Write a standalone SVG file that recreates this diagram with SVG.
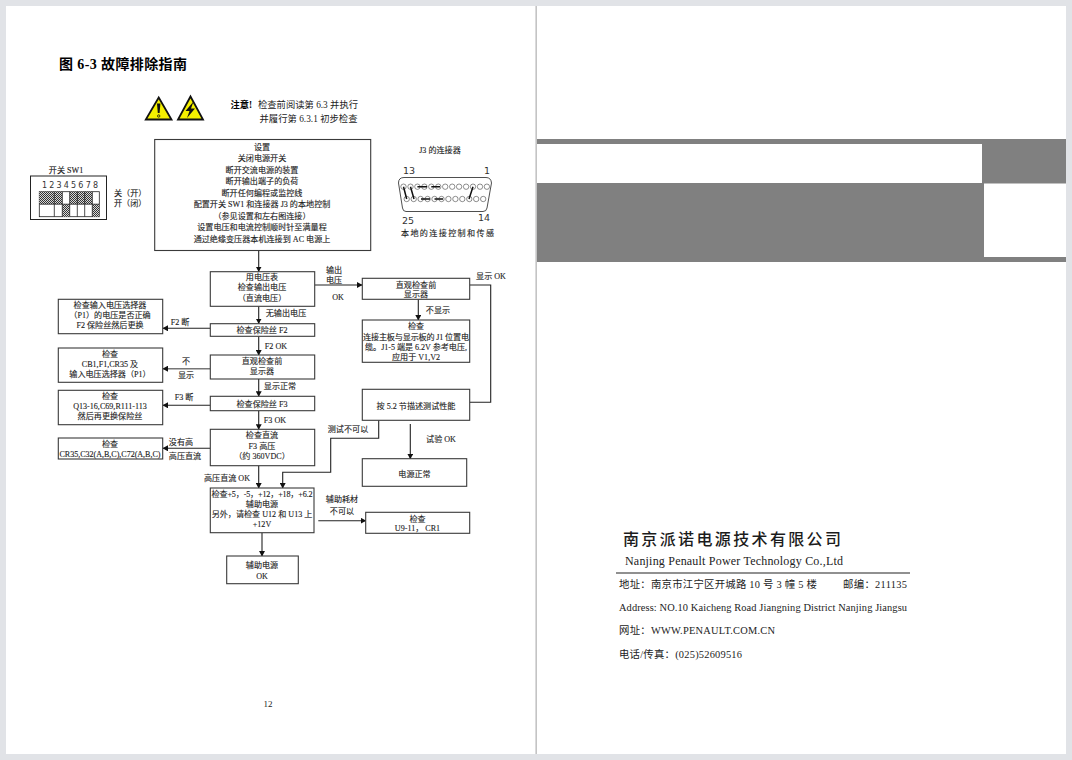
<svg xmlns="http://www.w3.org/2000/svg" width="1072" height="760" viewBox="0 0 1072 760">
<style>
text{font-family:"Liberation Serif","Noto Sans CJK SC",serif;fill:#1c1c1c}
.t{font-size:8.1px;text-anchor:middle;stroke:#1c1c1c;stroke-width:.12}
.l{font-size:8.1px;stroke:#1c1c1c;stroke-width:.12}
.a{font-size:10.4px;fill:#222}
.b{fill:#fff;stroke:#3a3a3a;stroke-width:1.1}
.c{fill:none;stroke:#222;stroke-width:1.1}
.pin{fill:#fff;stroke:#444;stroke-width:.6}
.j{stroke:#111;stroke-width:1.500;fill:none}
.num{font-family:"DejaVu Sans",sans-serif;fill:#333}
</style>
<defs>
<marker id="ah" markerWidth="6" markerHeight="6" refX="5" refY="3" orient="auto" markerUnits="userSpaceOnUse"><path d="M0,0L5.500,3L0,6Z" fill="#111"/></marker>
<pattern id="hatch" width="2" height="2" patternUnits="userSpaceOnUse"><rect width="2" height="2" fill="#d8d8d8"/><rect width="1" height="1" fill="#333"/><rect x="1" y="1" width="1" height="1" fill="#333"/></pattern>
</defs>
<rect width="1072" height="760" fill="#e1e3e7"/>
<rect x="6" y="6" width="529.500" height="748" fill="#fff"/>
<rect x="537" y="6" width="529" height="748" fill="#fff"/>
<rect x="535.500" y="6" width="1.500" height="748" fill="#c4c4c4"/>
<g id="band">
<rect x="537" y="139" width="529" height="123" fill="#808080"/>
<rect x="537" y="144" width="445" height="39" fill="#fff"/>
<rect x="984" y="183.500" width="82" height="73.500" fill="#fff"/>
</g>
<text id="title" x="59" y="69" font-size="14" font-weight="700" textLength="128" style="fill:#000">图 6-3 故障排除指南</text>
<g id="warnings">
<path d="M158.700 97.500L171.500 119.500H145.800Z" fill="#f5f000" stroke="#111" stroke-width="1.800"/>
<path d="M157 103.500h3.400l-.8 9.500h-1.800Z" fill="#111"/><circle cx="158.700" cy="116" r="1.200" fill="none" stroke="#111" stroke-width=".8"/>
<path d="M190.500 96.500L203 119.500H178Z" fill="#f5f000" stroke="#111" stroke-width="1.800"/>
<path d="M193.500 101.500L185.500 111L189.500 111L187 118L195 108.500L191 108.500Z" fill="#111"/>
</g>
<g id="note">
<text x="230.500" y="108" font-size="9.300" font-weight="700" style="fill:#000">注意!</text>
<text x="258" y="108" font-size="9.300" textLength="100">检查前阅读第 6.3 并执行</text>
<text x="259.500" y="122" font-size="9.300" textLength="98">并履行第 6.3.1 初步检查</text>
</g>
<g id="sw1">
<text class="t" x="66" y="172.500">开关 SW1</text>
<rect x="30.500" y="176" width="76" height="43.500" fill="#fff" stroke="#222" stroke-width="1"/>
<text class="num" x="42" y="188" textLength="56" font-size="8">1 2 3 4 5 6 7 8</text>
<rect x="39.300" y="191.700" width="60" height="25" fill="#fff" stroke="#222" stroke-width=".8"/>
<rect x="39.300" y="191.700" width="15" height="12.500" fill="url(#hatch)"/>
<rect x="54.300" y="191.700" width="8" height="12.500" fill="url(#hatch)"/>
<rect x="69.700" y="191.700" width="22.600" height="12.500" fill="url(#hatch)"/>
<rect x="62.300" y="204.200" width="7.400" height="12.500" fill="url(#hatch)"/>
<rect x="92.300" y="204.200" width="7" height="12.500" fill="url(#hatch)"/>
<path d="M39.300 204.200H99.300M54.300 191.700V216.700M62.300 191.700V216.700M69.700 191.700V216.700M77.300 204.200V216.700M84.700 204.200V216.700M92.300 191.700V216.700M77.300 191.700V204.200M84.700 191.700V204.200" stroke="#222" stroke-width=".8" fill="none"/>
<text class="l" x="114" y="196">关（开）</text>
<text class="l" x="114" y="206">开（闭）</text>
</g>
<g id="j3">
<text class="t" x="440" y="153">J3 的连接器</text>
<path d="M404 177.500H486Q491 177.500 491.500 183L487 208Q486.500 211.500 483 211.500H406Q403 211.500 402.500 208L398.500 183Q398.500 177.500 404 177.500Z" fill="#fff" stroke="#222" stroke-width=".8"/>
<g id="pins" class="pin">
<circle cx="403.500" cy="186.700" r="2.700"/><circle cx="410.500" cy="186.700" r="2.700"/><circle cx="417.400" cy="186.700" r="2.700"/><circle cx="424.400" cy="186.700" r="2.700"/><circle cx="431.300" cy="186.700" r="2.700"/><circle cx="438.300" cy="186.700" r="2.700"/><circle cx="445.200" cy="186.700" r="2.700"/><circle cx="452.200" cy="186.700" r="2.700"/><circle cx="459.100" cy="186.700" r="2.700"/><circle cx="466.100" cy="186.700" r="2.700"/><circle cx="473" cy="186.700" r="2.700"/><circle cx="480" cy="186.700" r="2.700"/><circle cx="486.900" cy="186.700" r="2.700"/>
<circle cx="406.700" cy="199" r="2.700"/><circle cx="413.700" cy="199" r="2.700"/><circle cx="420.600" cy="199" r="2.700"/><circle cx="427.600" cy="199" r="2.700"/><circle cx="434.500" cy="199" r="2.700"/><circle cx="441.500" cy="199" r="2.700"/><circle cx="448.400" cy="199" r="2.700"/><circle cx="455.400" cy="199" r="2.700"/><circle cx="462.300" cy="199" r="2.700"/><circle cx="469.300" cy="199" r="2.700"/><circle cx="476.200" cy="199" r="2.700"/><circle cx="483.200" cy="199" r="2.700"/>
</g>
<path class="j" d="M403.500 186.700L406.700 199M410.500 186.700L414 199M417.400 186.700H427M431.300 186.700H440M421 199H430M434.500 199H443M473 186.700L469 199"/>
<text class="num" x="403" y="174" font-size="9.500">13</text>
<text class="num" x="484" y="174" font-size="9.500">1</text>
<text class="num" x="402" y="224" font-size="9.500">25</text>
<text class="num" x="478" y="221" font-size="9.500">14</text>
<text class="t" x="447.500" y="236" textLength="93">本地的连接控制和传感</text>
</g>
<g id="connectors">
<path class="c" d="M258.700 250.700V271.500" marker-end="url(#ah)"/>
<path class="c" d="M258.700 306.300V323.500" marker-end="url(#ah)"/>
<path class="c" d="M258.700 336.300V355" marker-end="url(#ah)"/>
<path class="c" d="M258.700 379V396.300" marker-end="url(#ah)"/>
<path class="c" d="M258.700 410.700V429.300" marker-end="url(#ah)"/>
<path class="c" d="M258.700 465.700V488" marker-end="url(#ah)"/>
<path class="c" d="M262 532.700V556" marker-end="url(#ah)"/>
<path class="c" d="M210.300 328.300H163" marker-end="url(#ah)"/>
<path class="c" d="M210.300 368.700H163" marker-end="url(#ah)" style="stroke:#777;stroke-width:1.500"/>
<path class="c" d="M210.300 405.300H163" marker-end="url(#ah)"/>
<path class="c" d="M210.300 448.300H163" marker-end="url(#ah)"/>
<path class="c" d="M314.700 285H362" marker-end="url(#ah)"/>
<path class="c" d="M418.300 299.300V320" marker-end="url(#ah)"/>
<path class="c" d="M469.700 285H490.700V402.300H469.700"/>
<path class="c" d="M378.700 420.300V438.300H330.700V472.300H282.700V488" marker-end="url(#ah)"/>
<path class="c" d="M410.300 424V458.700" marker-end="url(#ah)"/>
<path class="c" d="M318.300 520.700H365.700" marker-end="url(#ah)"/>
</g>
<g id="n-setup">
<rect class="b" x="154.700" y="139.500" width="216" height="111"/>
<text class="t" x="262" y="150.300">设置</text>
<text class="t" x="262" y="161.300">关闭电源开关</text>
<text class="t" x="262" y="173">断开交流电源的装置</text>
<text class="t" x="262" y="184">断开输出端子的负荷</text>
<text class="t" x="262" y="196">断开任何编程或监控线</text>
<text class="t" x="262" y="207">配置开关 SW1 和连接器 J3 的本地控制</text>
<text class="t" x="262" y="218.700">（参见设置和左右图连接）</text>
<text class="t" x="262" y="230">设置电压和电流控制顺时针至满量程</text>
<text class="t" x="262" y="242">通过绝缘变压器本机连接到 AC 电源上</text>
</g>
<g id="n-volt">
<rect class="b" x="210.300" y="271.700" width="104.400" height="34.600"/>
<text class="t" x="262" y="280">用电压表</text>
<text class="t" x="262" y="290">检查输出电压</text>
<text class="t" x="262" y="301">（直流电压）</text>
</g>
<g id="n-input">
<rect class="b" x="58.300" y="299.300" width="104.400" height="34.400"/>
<text class="t" x="110" y="308">检查输入电压选择器</text>
<text class="t" x="110" y="318">（P1）的电压是否正确</text>
<text class="t" x="110" y="328">F2 保险丝然后更换</text>
</g>
<g id="n-f2">
<rect class="b" x="210.300" y="323.700" width="104.400" height="12.600"/>
<text class="t" x="262" y="333">检查保险丝 F2</text>
</g>
<g id="n-disp">
<rect class="b" x="210.300" y="355" width="104.400" height="24"/>
<text class="t" x="262" y="363.500">直观检查前</text>
<text class="t" x="262" y="374">显示器</text>
</g>
<g id="n-cb1">
<rect class="b" x="58.300" y="348" width="104.400" height="34.300"/>
<text class="t" x="110" y="356.500">检查</text>
<text class="t" x="110" y="367">CB1,F1,CR35 及</text>
<text class="t" x="110" y="377">输入电压选择器（P1）</text>
</g>
<g id="n-f3">
<rect class="b" x="210.300" y="396.300" width="104.400" height="14.400"/>
<text class="t" x="262" y="407">检查保险丝 F3</text>
</g>
<g id="n-q13">
<rect class="b" x="58.300" y="390.300" width="104.400" height="34.400"/>
<text class="t" x="110" y="399">检查</text>
<text class="t" x="110" y="408.500">Q13-16,C69,R111-113</text>
<text class="t" x="110" y="418.500">然后再更换保险丝</text>
</g>
<g id="n-dc">
<rect class="b" x="210.300" y="429.300" width="104.400" height="36.400"/>
<text class="t" x="262" y="438">检查直流</text>
<text class="t" x="262" y="449">F3 高压</text>
<text class="t" x="262" y="459">（约 360VDC）</text>
</g>
<g id="n-cr35">
<rect class="b" x="58.300" y="438" width="104.400" height="21"/>
<text class="t" x="110" y="447">检查</text>
<text class="t" x="110" y="456.500" textLength="101">CR35,C32(A,B,C),C72(A,B,C)</text>
</g>
<g id="n-aux">
<rect class="b" x="210.300" y="488" width="103.700" height="44.700"/>
<text class="t" x="262" y="496.500" textLength="101">检查+5，-5，+12，+18，+6.2</text>
<text class="t" x="262" y="507">辅助电源</text>
<text class="t" x="262" y="517">另外，请检查 U12 和 U13 上</text>
<text class="t" x="262" y="527">+12V</text>
</g>
<g id="n-auxok">
<rect class="b" x="226.700" y="556" width="71.600" height="27.700"/>
<text class="t" x="262" y="568">辅助电源</text>
<text class="t" x="262" y="579">OK</text>
</g>
<g id="n-disp2">
<rect class="b" x="362.300" y="278.300" width="107.400" height="21"/>
<text class="t" x="416" y="287.500">直观检查前</text>
<text class="t" x="416" y="297">显示器</text>
</g>
<g id="n-j1">
<rect class="b" x="362.300" y="320" width="107.400" height="42.300"/>
<text class="t" x="416" y="329">检查</text>
<text class="t" x="416" y="339.500" textLength="106">连接主板与显示板的 J1 位置电</text>
<text class="t" x="416" y="349.500" textLength="102">缆。J1-5 端是 6.2V 参考电压,</text>
<text class="t" x="416" y="360">应用于 V1,V2</text>
</g>
<g id="n-perf">
<rect class="b" x="362.300" y="389.300" width="107.400" height="31"/>
<text class="t" x="416" y="409">按 5.2 节描述测试性能</text>
</g>
<g id="n-normal">
<rect class="b" x="362.300" y="458.700" width="104.400" height="27.600"/>
<text class="t" x="414.500" y="477">电源正常</text>
</g>
<g id="n-u9">
<rect class="b" x="365.700" y="512.300" width="104" height="21"/>
<text class="t" x="417.500" y="521.500">检查</text>
<text class="t" x="417.500" y="531">U9-11， CR1</text>
</g>
<g id="labels">
<text class="t" x="334" y="273">输出</text>
<text class="t" x="334" y="283">电压</text>
<text class="t" x="338" y="300">OK</text>
<text class="t" x="491" y="279">显示 OK</text>
<text class="t" x="438" y="313">不显示</text>
<text class="t" x="286" y="316">无输出电压</text>
<text class="t" x="180" y="325">F2 断</text>
<text class="t" x="276" y="349">F2 OK</text>
<text class="t" x="186" y="364">不</text>
<text class="t" x="186" y="378">显示</text>
<text class="t" x="280" y="389">显示正常</text>
<text class="t" x="184" y="400">F3 断</text>
<text class="t" x="275" y="423">F3 OK</text>
<text class="t" x="181" y="445">没有高</text>
<text class="t" x="185" y="459">高压直流</text>
<text class="t" x="227" y="481">高压直流 OK</text>
<text class="t" x="348" y="432">测试不可以</text>
<text class="t" x="441" y="442">试验 OK</text>
<text class="t" x="342" y="502">辅助耗材</text>
<text class="t" x="342" y="514">不可以</text>
<text x="268" y="707" font-size="9" text-anchor="middle">12</text>
</g>
<g id="company">
<text x="623" y="545" font-size="16" textLength="218" style="font-weight:500">南京派诺电源技术有限公司</text>
<text x="625" y="565" font-size="12" textLength="218" style="fill:#222">Nanjing Penault Power Technology Co.,Ltd</text>
<line x1="616" y1="573" x2="910" y2="573" stroke="#222" stroke-width="1.200"/>
<text class="a" x="619" y="588" textLength="198">地址：南京市江宁区开城路 10 号 3 幢 5 楼</text>
<text class="a" x="843" y="588" textLength="64">邮编：211135</text>
<text class="a" x="619" y="611" textLength="288">Address: NO.10 Kaicheng Road Jiangning District Nanjing Jiangsu</text>
<text class="a" x="619" y="634" textLength="156">网址：WWW.PENAULT.COM.CN</text>
<text class="a" x="619" y="658" textLength="123">电话/传真：(025)52609516</text>
</g>
</svg>
